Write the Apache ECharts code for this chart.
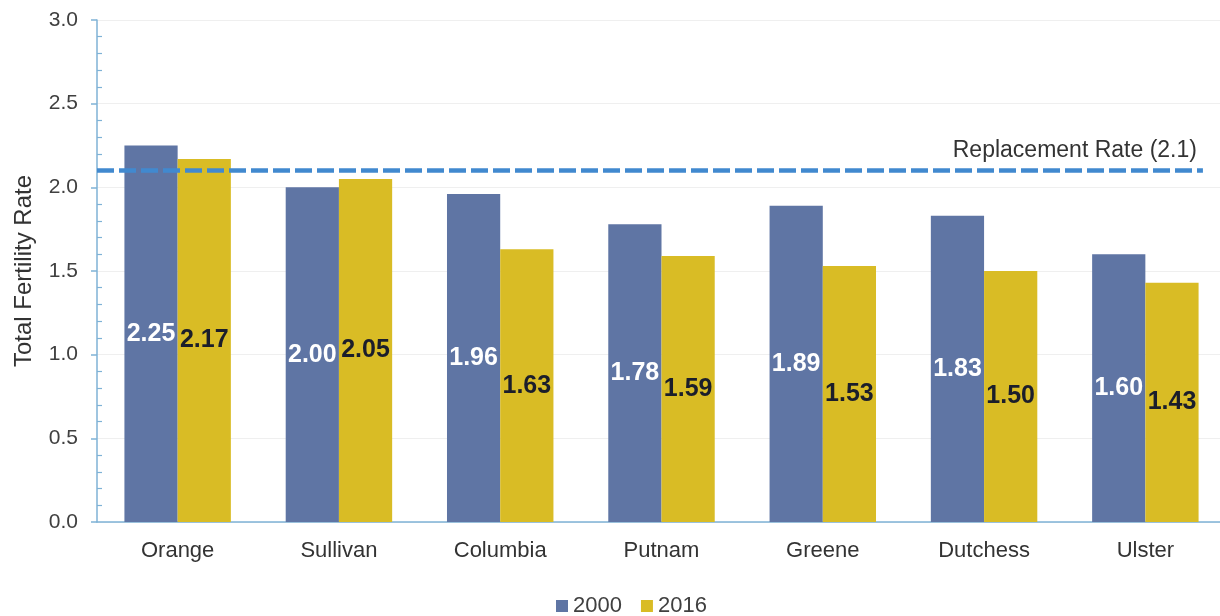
<!DOCTYPE html>
<html>
<head>
<meta charset="utf-8">
<style>
html,body{margin:0;padding:0;background:#fff;}
#chart{width:1220px;height:616px;}
</style>
<script src="https://cdn.jsdelivr.net/npm/echarts@6/dist/echarts.min.js"></script>
</head>
<body>
<div id="chart"></div>
<script>
const counties = ['Orange', 'Sullivan', 'Columbia', 'Putnam', 'Greene', 'Dutchess', 'Ulster'];
const rate2000 = [2.25, 2.00, 1.96, 1.78, 1.89, 1.83, 1.60];
const rate2016 = [2.17, 2.05, 1.63, 1.59, 1.53, 1.50, 1.43];
const seriesNames = ['2000', '2016'];
const replacementRate = 2.1;
const replacementLabel = 'Replacement Rate (2.1)';
const yAxisTitle = 'Total Fertility Rate';

const FONT = '"Liberation Sans", Arial, sans-serif';
const chart = echarts.init(document.getElementById('chart'), null, {renderer: 'canvas'});

chart.setOption({
  animation: false,
  backgroundColor: '#ffffff',
  textStyle: {fontFamily: FONT},
  grid: {left: 97, width: 1129, top: 20, bottom: 94, containLabel: false, outerBoundsMode: 'none'},
  legend: {
    data: seriesNames,
    left: 556,
    top: 595,
    padding: 0,
    itemWidth: 12,
    itemHeight: 12,
    itemGap: 19,
    icon: 'rect',
    textStyle: {fontSize: 22, color: '#404040', fontFamily: FONT}
  },
  xAxis: {
    type: 'category',
    data: counties,
    axisLine: {lineStyle: {color: '#7fb2d6', width: 1.5}},
    axisTick: {show: false},
    axisLabel: {fontSize: 22, color: '#333333', margin: 18, fontFamily: FONT}
  },
  yAxis: {
    type: 'value',
    min: 0,
    max: 3,
    interval: 0.5,
    name: yAxisTitle,
    nameLocation: 'middle',
    nameGap: 61,
    nameTextStyle: {fontSize: 24, color: '#333333', fontFamily: FONT},
    axisLine: {show: true, lineStyle: {color: '#7fb2d6', width: 1.5}},
    axisTick: {show: true, length: 6, lineStyle: {color: '#7fb2d6', width: 1.5}},
    minorTick: {show: true, splitNumber: 5, length: -5, lineStyle: {color: '#7fb2d6', width: 1.2}},
    axisLabel: {fontSize: 21, color: '#404040', margin: 19, fontFamily: FONT,
      formatter: v => v.toFixed(1)},
    splitLine: {show: true, lineStyle: {color: '#efefef', width: 1}}
  },
  series: [
    {
      name: seriesNames[0],
      type: 'bar',
      data: rate2000,
      barGap: '0%',
      barCategoryGap: '34%',
      itemStyle: {color: '#5f75a4'},
      label: {
        show: true, position: 'inside', formatter: p => p.value.toFixed(2),
        color: '#ffffff', fontSize: 25, fontWeight: 'bold', fontFamily: FONT
      },
      markLine: {
        silent: true,
        symbol: ['none', 'none'],
        lineStyle: {color: '#4189cf', width: 4.5, type: [17, 5]},
        label: {
          show: true, position: 'insideEndTop', formatter: replacementLabel,
          fontSize: 23, color: '#333333', fontFamily: FONT, distance: [6, 8]
        },
        data: [[{coord: [-Infinity, replacementRate]}, {coord: [Infinity, replacementRate], x: '98.6%'}]]
      }
    },
    {
      name: seriesNames[1],
      type: 'bar',
      data: rate2016,
      barGap: '0%',
      barCategoryGap: '34%',
      itemStyle: {color: '#d9bc25'},
      label: {
        show: true, position: 'inside', formatter: p => p.value.toFixed(2),
        color: '#1b1e2b', fontSize: 25, fontWeight: 'bold', fontFamily: FONT
      }
    }
  ]
});
</script>
</body>
</html>
